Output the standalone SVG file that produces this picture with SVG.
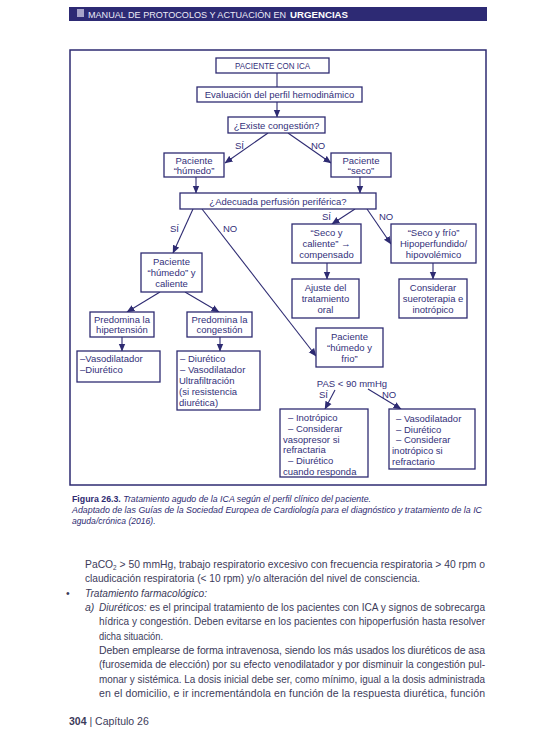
<svg xmlns="http://www.w3.org/2000/svg" width="550" height="750" viewBox="0 0 550 750">
<defs>
<marker id="ah" markerUnits="userSpaceOnUse" markerWidth="8" markerHeight="8" viewBox="0 0 8 8" refX="7.5" refY="4" orient="auto">
<path d="M0,0.6 L8,4 L0,7.4 z" fill="#2e2b72"/>
</marker>
<style>
.b{fill:#fff;stroke:#2e2b72;stroke-width:1.3}
.t{font-family:"Liberation Sans",Arial,sans-serif;font-size:9.5px;fill:#33307a}
.c{text-anchor:middle}
.ln{stroke:#2e2b72;stroke-width:1.1;fill:none}
.ar{marker-end:url(#ah)}
.body{font-family:"Liberation Sans",Arial,sans-serif;font-size:10.5px;fill:#3c3b5a}
.cap{font-family:"Liberation Sans",Arial,sans-serif;font-size:8.6px;fill:#2e2b72}
</style>
</defs>
<rect width="550" height="750" fill="#fff"/>
<g id="header">
<rect x="69" y="7" width="418" height="14" fill="#2d2a74"/>
<rect x="77" y="9" width="7" height="8" fill="#a6a3c8"/>
<text x="88" y="17.8" font-family="'Liberation Sans',Arial,sans-serif" font-size="9.4" fill="#ecebf7" textLength="198" lengthAdjust="spacingAndGlyphs">MANUAL DE PROTOCOLOS Y ACTUACIÓN EN</text>
<text x="290" y="17.8" font-family="'Liberation Sans',Arial,sans-serif" font-size="9.4" font-weight="bold" fill="#fff" textLength="58" lengthAdjust="spacingAndGlyphs">URGENCIAS</text>
</g>
<rect id="frame" x="70" y="50" width="416" height="435" fill="none" stroke="#2e2b72" stroke-width="1.5"/>
<g id="connectors">
<line class="ln" x1="277" y1="73" x2="277" y2="87"/>
<line class="ln ar" x1="277" y1="102" x2="277" y2="117"/>
<line class="ln ar" x1="268" y1="133" x2="225" y2="163"/>
<line class="ln ar" x1="288" y1="133" x2="331" y2="163"/>
<line class="ln ar" x1="196" y1="177" x2="196" y2="193"/>
<line class="ln ar" x1="360" y1="177" x2="360" y2="193"/>
<line class="ln ar" x1="193" y1="209" x2="173" y2="253"/>
<line class="ln ar" x1="202" y1="209" x2="316" y2="356"/>
<line class="ln ar" x1="355" y1="209" x2="332" y2="224"/>
<line class="ln ar" x1="367" y1="209" x2="391" y2="244"/>
<line class="ln ar" x1="327" y1="263" x2="327" y2="279"/>
<line class="ln ar" x1="433" y1="263" x2="433" y2="279"/>
<line class="ln ar" x1="160" y1="292" x2="127" y2="312"/>
<line class="ln ar" x1="185" y1="292" x2="219" y2="312"/>
<line class="ln ar" x1="122" y1="337" x2="122" y2="351"/>
<line class="ln ar" x1="220" y1="337" x2="220" y2="351"/>
<line class="ln ar" x1="335" y1="390" x2="325" y2="409"/>
<line class="ln ar" x1="368" y1="389" x2="401" y2="409"/>
</g>
<g id="labels" class="t">
<text x="235" y="149">SÍ</text>
<text x="311" y="149">NO</text>
<text x="170" y="232">SÍ</text>
<text x="223" y="232">NO</text>
<text x="322" y="220">SÍ</text>
<text x="379" y="220">NO</text>
<text x="352" y="387" class="c">PAS &lt; 90 mmHg</text>
<text x="319" y="398">SÍ</text>
<text x="382" y="398">NO</text>
</g>
<g id="n1"><rect class="b" x="216" y="58" width="113" height="15"/><text class="t" x="235" y="69" textLength="75" lengthAdjust="spacingAndGlyphs">PACIENTE CON ICA</text></g>
<g id="n2"><rect class="b" x="197" y="87" width="165" height="15"/><text class="t c" x="279.5" y="98">Evaluación del perfil hemodinámico</text></g>
<g id="n3"><rect class="b" x="228" y="117" width="97" height="16"/><text class="t c" x="276.5" y="129">¿Existe congestión?</text></g>
<g id="n4"><rect class="b" x="164" y="153" width="60" height="24"/><text class="t c" x="194" y="163.5">Paciente</text><text class="t c" x="194" y="174">“húmedo”</text></g>
<g id="n5"><rect class="b" x="331" y="153" width="60" height="24"/><text class="t c" x="361" y="163.5">Paciente</text><text class="t c" x="361" y="174">“seco”</text></g>
<g id="n6"><rect class="b" x="180" y="193" width="196" height="16"/><text class="t c" x="278" y="205">¿Adecuada perfusión periférica?</text></g>
<g id="n7"><rect class="b" x="292" y="224" width="69" height="39"/><text class="t c" x="326.5" y="236">“Seco y</text><text class="t c" x="326.5" y="247">caliente” →</text><text class="t c" x="326.5" y="258">compensado</text></g>
<g id="n8"><rect class="b" x="391" y="224" width="85" height="39"/><text class="t c" x="433.5" y="236">“Seco y frío”</text><text class="t c" x="433.5" y="247">Hipoperfundido/</text><text class="t c" x="433.5" y="258">hipovolémico</text></g>
<g id="n9"><rect class="b" x="292" y="279" width="67" height="39"/><text class="t c" x="325.5" y="291">Ajuste del</text><text class="t c" x="325.5" y="302">tratamiento</text><text class="t c" x="325.5" y="313">oral</text></g>
<g id="n10"><rect class="b" x="399" y="279" width="68" height="39"/><text class="t c" x="433" y="291">Considerar</text><text class="t c" x="433" y="302">sueroterapia e</text><text class="t c" x="433" y="313">inotrópico</text></g>
<g id="n11"><rect class="b" x="141" y="253" width="61" height="39"/><text class="t c" x="171.5" y="265">Paciente</text><text class="t c" x="171.5" y="276">“húmedo” y</text><text class="t c" x="171.5" y="287">caliente</text></g>
<g id="n12"><rect class="b" x="90" y="312" width="64" height="25"/><text class="t c" x="122" y="322.5">Predomina la</text><text class="t c" x="122" y="333">hipertensión</text></g>
<g id="n13"><rect class="b" x="187" y="312" width="65" height="25"/><text class="t c" x="219.5" y="322.5">Predomina la</text><text class="t c" x="219.5" y="333">congestión</text></g>
<g id="n14"><rect class="b" x="77" y="351" width="83" height="31"/><text class="t" x="80" y="362">–Vasodilatador</text><text class="t" x="80" y="373">–Diurético</text></g>
<g id="n15"><rect class="b" x="177" y="351" width="83" height="59"/><text class="t" x="180" y="362">– Diurético</text><text class="t" x="180" y="373">– Vasodilatador</text><text class="t" x="179" y="384">Ultrafiltración</text><text class="t" x="179" y="395">(si resistencia</text><text class="t" x="179" y="406">diurética)</text></g>
<g id="n16"><rect class="b" x="316" y="328" width="67" height="39"/><text class="t c" x="349.5" y="340">Paciente</text><text class="t c" x="349.5" y="351">“húmedo y</text><text class="t c" x="349.5" y="362">frio”</text></g>
<g id="n17"><rect class="b" x="280" y="409" width="88" height="68"/><text class="t" x="288" y="421">– Inotrópico</text><text class="t" x="288" y="432">– Considerar</text><text class="t" x="283" y="442.5">vasopresor si</text><text class="t" x="283" y="453">refractaria</text><text class="t" x="288" y="464">– Diurético</text><text class="t" x="283" y="475">cuando responda</text></g>
<g id="n18"><rect class="b" x="389" y="409" width="86" height="60"/><text class="t" x="396" y="422">– Vasodilatador</text><text class="t" x="396" y="432.5">– Diurético</text><text class="t" x="396" y="443">– Considerar</text><text class="t" x="392" y="454">inotrópico si</text><text class="t" x="392" y="465">refractario</text></g>
<g id="caption" class="cap">
<text x="72" y="502" textLength="299" lengthAdjust="spacingAndGlyphs"><tspan font-weight="bold">Figura 26.3.</tspan><tspan font-style="italic"> Tratamiento agudo de la ICA según el perfil clínico del paciente.</tspan></text>
<text x="72" y="513" font-style="italic" textLength="410" lengthAdjust="spacingAndGlyphs">Adaptado de las Guías de la Sociedad Europea de Cardiología para el diagnóstico y tratamiento de la IC</text>
<text x="72" y="524" font-style="italic">aguda/crónica (2016).</text>
</g>
<g id="bodytext" class="body">
<text x="85" y="568" textLength="400" lengthAdjust="spacingAndGlyphs">PaCO<tspan font-size="6.5" dy="2">2</tspan><tspan dy="-2"> &gt; 50 mmHg, trabajo respiratorio excesivo con frecuencia respiratoria &gt; 40 rpm o</tspan></text>
<text x="85" y="582" textLength="335" lengthAdjust="spacingAndGlyphs">claudicación respiratoria (&lt; 10 rpm) y/o alteración del nivel de consciencia.</text>
<text x="66" y="597">•</text>
<text x="85" y="597" font-style="italic" textLength="122" lengthAdjust="spacingAndGlyphs">Tratamiento farmacológico:</text>
<text x="85" y="611" font-style="italic">a)</text>
<text x="99" y="611" textLength="386" lengthAdjust="spacingAndGlyphs"><tspan font-style="italic">Diuréticos:</tspan> es el principal tratamiento de los pacientes con ICA y signos de sobrecarga</text>
<text x="99" y="625" textLength="386" lengthAdjust="spacingAndGlyphs">hídrica y congestión. Deben evitarse en los pacientes con hipoperfusión hasta resolver</text>
<text x="99" y="640" textLength="64" lengthAdjust="spacingAndGlyphs">dicha situación.</text>
<text x="99" y="654" textLength="386" lengthAdjust="spacing">Deben emplearse de forma intravenosa, siendo los más usados los diuréticos de asa</text>
<text x="99" y="668" textLength="386" lengthAdjust="spacingAndGlyphs">(furosemida de elección) por su efecto venodilatador y por disminuir la congestión pul-</text>
<text x="99" y="683" textLength="386" lengthAdjust="spacingAndGlyphs">monar y sistémica. La dosis inicial debe ser, como mínimo, igual a la dosis administrada</text>
<text x="99" y="697" textLength="386" lengthAdjust="spacing">en el domicilio, e ir incrementándola en función de la respuesta diurética, función</text>
</g>
<g id="footer" class="body" font-size="9.5">
<text x="69" y="725"><tspan font-weight="bold">304</tspan> | Capítulo 26</text>
</g>
</svg>
